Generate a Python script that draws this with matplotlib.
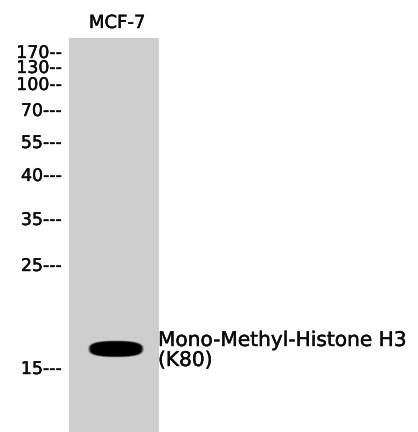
import numpy as np
import matplotlib
matplotlib.use("Agg")
import matplotlib.pyplot as plt
import matplotlib.patheffects as pe

# ---- data ----
lanes = ["MCF-7"]
marker_kda = ["170", "130", "100", "70", "55", "40", "35", "25", "15"]
marker_dashes = ["--", "--", "--", "---", "---", "---", "---", "---", "---"]
band_intensity = [1.0]
band_label = ["Mono-Methyl-Histone H3", "(K80)"]

# ---- layout (pixel space) ----
W, H = 418, 432
marker_y = [53, 68, 85, 111, 143, 176, 220, 266, 369]
lane_x0, lane_x1, lane_y0, lane_y1 = 69, 159, 38, 432
band_cx, band_cy, band_hw, band_hh = 116, 349, 27.5, 8.2
lane_grey = 0.81

fig = plt.figure(figsize=(W / 100, H / 100), dpi=100)
ax = fig.add_axes([0, 0, 1, 1])
ax.set_xlim(0, W)
ax.set_ylim(H, 0)
ax.axis("off")

# lane image with band
nx, ny = (lane_x1 - lane_x0) * 4, (lane_y1 - lane_y0) * 4
xs = np.linspace(lane_x0, lane_x1, nx)
ys = np.linspace(lane_y0, lane_y1, ny)
X, Y = np.meshgrid(xs, ys)
img = np.full_like(X, lane_grey)
for i, inten in enumerate(band_intensity):
    dx = (X - band_cx) / band_hw
    hh = band_hh * np.sqrt(np.clip(1 - 0.35 * dx**2, 0.05, None))
    dy = (Y - band_cy) / hh
    r = np.sqrt(np.abs(dx) ** 4 + np.abs(dy) ** 3)
    t = np.clip((1.1 - r) / 0.3, 0, 1)
    dark = inten * t * t * (3 - 2 * t)
    img = img * (1 - dark)
ax.imshow(img, cmap="gray", vmin=0, vmax=1, extent=(lane_x0, lane_x1, lane_y1, lane_y0),
          interpolation="bilinear", aspect="auto")

font = "DejaVu Sans"
ink = "#0a0a0a"
fx = [pe.withStroke(linewidth=0.3, foreground=ink)]
# lane label
for i, name in enumerate(lanes):
    ax.text((lane_x0 + lane_x1) / 2 + 3, 28, name, ha="center", va="baseline",
            fontsize=13, family=font, color=ink, path_effects=fx)

# markers
for lab, d, y in zip(marker_kda, marker_dashes, marker_y):
    ax.text(62, y, lab + d, ha="right", va="center", fontsize=12.5,
            family=font, color=ink, path_effects=fx)

# band label
ax.text(158, 346, band_label[0], ha="left", va="baseline", fontsize=14.5,
        family=font, color=ink, path_effects=fx)
ax.text(158, 366, band_label[1], ha="left", va="baseline", fontsize=14.5,
        family=font, color=ink, path_effects=fx)

fig.savefig("out.png", dpi=100, facecolor="white")
